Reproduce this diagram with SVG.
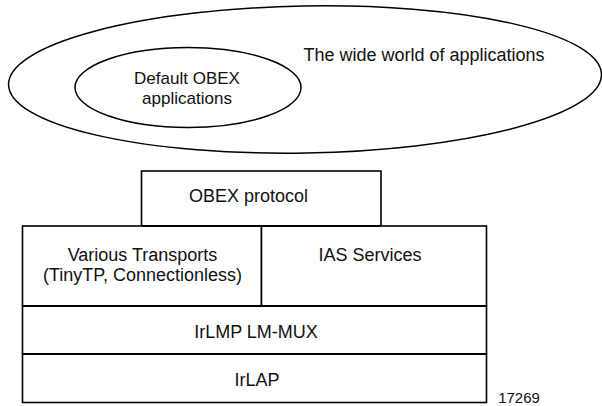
<svg xmlns="http://www.w3.org/2000/svg" width="602" height="406" viewBox="0 0 602 406">
<style>
.shape{fill:none;stroke:#000;stroke-width:1.5}
.box{fill:#fff;stroke:#000;stroke-width:1.6}
.div{stroke:#000;stroke-width:2.2}
text{font-family:"Liberation Sans",Arial,Helvetica,sans-serif;font-size:18px;fill:#111;text-anchor:middle}
.small{font-size:17px}
</style>
<rect width="602" height="406" fill="#fff"/>
<g id="world">
<ellipse class="shape" cx="305" cy="79.5" rx="296.5" ry="73.5" transform="rotate(-1 305 79.5)"/>
<text x="424" y="61">The wide world of applications</text>
</g>
<g id="default-obex">
<ellipse class="shape" cx="188" cy="87.5" rx="113" ry="40"/>
<text class="small" x="187" y="84">Default OBEX</text>
<text class="small" x="187" y="103.5">applications</text>
</g>
<g id="obex-protocol">
<rect class="box" x="141.5" y="171" width="239.5" height="55"/>
<text x="248.5" y="202">OBEX protocol</text>
</g>
<g id="transports">
<rect class="box" x="22.5" y="226" width="239" height="80"/>
<text x="142.5" y="260.5">Various Transports</text>
<text x="142.5" y="281">(TinyTP, Connectionless)</text>
</g>
<g id="ias">
<rect class="box" x="261.5" y="226" width="225" height="80"/>
<text x="370" y="260.5">IAS Services</text>
</g>
<g id="irlmp">
<rect class="box" x="22.5" y="306" width="464" height="48"/>
<text x="256" y="337.5">IrLMP LM-MUX</text>
</g>
<g id="irlap">
<rect class="box" x="22.5" y="354" width="464" height="48.5"/>
<text x="257" y="386">IrLAP</text>
</g>
<g id="connectors">
<line class="div" x1="22.5" y1="306" x2="486.5" y2="306"/>
<line class="div" x1="22.5" y1="354" x2="486.5" y2="354"/>
<line class="div" x1="141.5" y1="226" x2="381" y2="226"/>
</g>
<text x="519" y="403" style="font-size:15px">17269</text>
</svg>
